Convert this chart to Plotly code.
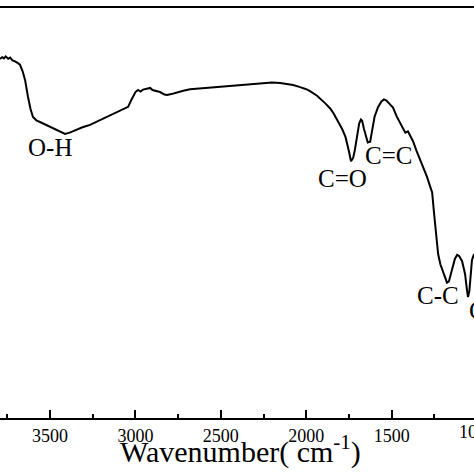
import plotly.graph_objects as go

# FTIR spectrum (wavenumber in cm-1, transmittance in a.u.)
wavenumber = [3793, 3780, 3770, 3760, 3745, 3734, 3720, 3705, 3690, 3676,
              3660, 3646, 3629, 3615, 3600, 3580, 3559, 3530, 3500, 3470,
              3441, 3412, 3385, 3354, 3310, 3266, 3207, 3160, 3119, 3070,
              3043, 3025, 3014, 3000, 2985, 2970, 2955, 2935, 2914, 2900,
              2885, 2856, 2830, 2815, 2790, 2768, 2720, 2680, 2620, 2563,
              2500, 2446, 2390, 2329, 2290, 2253, 2200, 2153, 2110, 2077,
              2036, 2000, 1978, 1937, 1890, 1860, 1843, 1814, 1790, 1770,
              1761, 1750, 1738, 1725, 1715, 1700, 1690, 1680, 1673, 1662,
              1650, 1640, 1626, 1615, 1600, 1580, 1560, 1545, 1530, 1510,
              1492, 1470, 1451, 1430, 1420, 1405, 1392, 1375, 1355, 1334,
              1310, 1293, 1275, 1263, 1252, 1240, 1228, 1215, 1199, 1185,
              1176, 1165, 1146, 1130, 1117, 1105, 1095, 1088, 1078, 1070,
              1060, 1053, 1045, 1038, 1030, 1018]
transmittance = [87.6, 88.0, 87.7, 88.2, 87.6, 87.9, 87.2, 87.0, 86.6, 86.2,
                 84.5, 82.4, 78.3, 75.5, 73.4, 72.6, 72.2, 71.6, 71.0, 70.4,
                 69.8, 69.3, 69.6, 70.2, 70.9, 71.5, 72.7, 73.6, 74.4, 75.3,
                 75.9, 77.5, 78.3, 79.5, 80.0, 79.6, 80.1, 80.3, 80.5, 80.0,
                 79.8, 79.5, 78.9, 78.8, 79.0, 79.3, 79.8, 80.2, 80.4, 80.5,
                 80.8, 81.0, 81.2, 81.4, 81.5, 81.7, 81.8, 81.7, 81.5, 81.2,
                 80.7, 80.2, 79.7, 78.6, 76.8, 75.5, 74.5, 72.5, 70.5, 68.5,
                 67.1, 65.0, 62.6, 63.5, 65.5, 69.5, 71.9, 72.8, 72.5, 70.5,
                 68.5, 67.2, 67.4, 70.0, 73.5, 75.8, 77.2, 77.7, 77.4, 76.5,
                 75.7, 73.5, 72.0, 70.2, 69.6, 69.9, 69.0, 67.5, 65.2, 63.0,
                 60.8, 58.8, 56.5, 55.0, 50.0, 44.5, 40.0, 37.5, 35.5, 33.8,
                 33.0, 33.3, 36.5, 38.8, 39.8, 39.5, 38.8, 38.3, 36.5, 35.0,
                 31.5, 29.5, 31.0, 35.5, 38.5, 40.0]

# band labels: text, wavenumber, transmittance, anchor
band_labels = ["O-H", "C=O", "C=C", "C-C", "C-O"]
band_x = [3500, 1790, 1521, 1228, 1059]
band_y = [65.9, 58.5, 64.0, 29.8, 26.3]
band_anchor = ["center", "center", "center", "center", "left"]

serif = "Liberation Serif"

fig = go.Figure()
fig.add_trace(go.Scatter(x=wavenumber, y=transmittance, mode="lines",
                         line=dict(color="black", width=2),
                         showlegend=False, hoverinfo="skip"))

for txt, bx, by, anc in zip(band_labels, band_x, band_y, band_anchor):
    fig.add_annotation(x=bx, y=by, text=txt, showarrow=False,
                       xanchor=anc, yanchor="middle",
                       font=dict(family=serif, size=25, color="black"))

# tick label of 1000 sits just past the right edge and is cut off
fig.add_annotation(x=477 / 474, y=-0.035, xref="paper", yref="paper",
                   text="1000", showarrow=False, xanchor="center", yanchor="middle",
                   font=dict(family=serif, size=18, color="black"))

# axis title
fig.add_annotation(x=240 / 474, y=-0.077, xref="paper", yref="paper",
                   text="Wavenumber( cm<sup>-1</sup>)", showarrow=False,
                   xanchor="center", yanchor="middle",
                   font=dict(family=serif, size=30, color="black"))

fig.update_layout(
    width=474, height=474,
    margin=dict(l=0, r=0, t=8, b=56),
    paper_bgcolor="white", plot_bgcolor="white",
    xaxis=dict(
        range=[3793, 1018],
        showgrid=False, zeroline=False,
        showline=True, linecolor="black", linewidth=2, mirror=True,
        ticks="inside", ticklen=8, tickwidth=1.5, tickcolor="black",
        dtick=500, tick0=0,
        minor=dict(ticks="inside", ticklen=4, tickwidth=1.5, dtick=250,
                   tickcolor="black", showgrid=False),
        tickfont=dict(family=serif, size=18, color="black"),
    ),
    yaxis=dict(range=[0, 100], visible=False),
)

# page has a default 8px body margin; drop it so the figure fills the window
fig.write_html("out.html", config={"displayModeBar": False},
               post_script="document.body.style.margin='0';")
